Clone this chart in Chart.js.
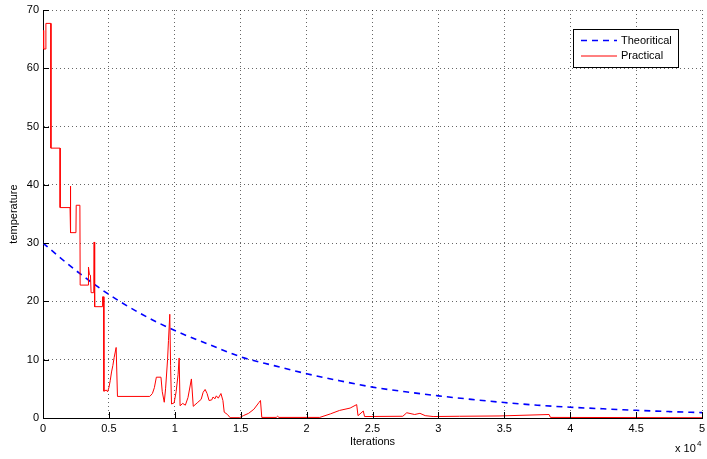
<!DOCTYPE html>
<html>
<head>
<meta charset="utf-8">
<script src="https://cdn.jsdelivr.net/npm/chart.js@4.4.1/dist/chart.umd.min.js"></script>
<style>
  body { margin: 0; background: #fff; }
  canvas { display: block; }
</style>
</head>
<body>
<canvas id="chart" width="707" height="459"></canvas>
<script>
// values (x in iterations)
const theoryX = [0, 2500, 5000, 7500, 10000, 12500, 15000, 17500, 20000, 22500, 25000,
                 27500, 30000, 32500, 35000, 37500, 40000, 42500, 45000, 47500, 50000];
const theoryY = [30, 25.3, 21.2, 17.8, 15.0, 12.7, 10.5, 9.0, 7.6, 6.4, 5.3,
                 4.5, 3.8, 3.2, 2.65, 2.2, 1.85, 1.58, 1.32, 1.1, 0.92];

const practicalX = [0, 50, 200, 220, 600, 600, 1300, 1300, 2050, 2080, 2100, 2500, 2520, 2800, 2820,
  3430, 3450, 3520, 3600, 3650, 3850, 3880, 3920, 4500, 4520, 4600, 4620, 4800, 4900, 5000,
  5100, 5200, 5300, 5400, 5550, 5650, 8100, 8300, 8450, 8600, 8950, 9050, 9200, 9300, 9450,
  9520, 9620, 9680, 9750, 9950, 10100, 10250, 10330, 10400, 10600, 10800, 11000, 11260, 11400,
  11700, 12000, 12150, 12300, 12450, 12600, 12800, 12900, 13050, 13150, 13300, 13500, 13650,
  13750, 14000, 14200, 14900, 15200, 15600, 16000, 16400, 16500, 16600, 17700, 17800, 17900,
  21000, 21800, 22500, 23300, 23800, 23900, 24300, 24400, 27300, 27600, 28200, 28600, 29000,
  29600, 31600, 34600, 38400, 38500, 50000];
const practicalY = [66.5, 63.3, 63.3, 67.7, 67.7, 46.3, 46.3, 36.1, 36.1, 39.8, 31.8, 31.8, 36.5, 36.5, 22.8,
  22.8, 25.9, 24.6, 24.5, 21.5, 21.5, 30.2, 19.1, 19.1, 20.8, 20.8, 4.6, 4.8, 4.5, 5.2,
  6.4, 7.9, 9.0, 10.4, 12.1, 3.7, 3.7, 4.2, 5.2, 7.0, 7.0, 4.5, 2.7, 5.0, 10.0,
  13.3, 17.8, 9.0, 2.4, 2.6, 4.5, 7.5, 10.3, 2.1, 2.5, 2.2, 3.5, 6.7, 2.0,
  2.6, 3.2, 4.4, 4.9, 4.2, 3.0, 3.1, 3.6, 3.3, 3.8, 3.4, 4.2, 3.0,
  1.0, 0.6, 0.05, 0.05, 0.4, 0.8, 1.5, 2.7, 3.0, 0.1, 0.1, 0.3, 0.1,
  0.1, 0.7, 1.3, 1.7, 2.3, 0.4, 1.2, 0.25, 0.3, 0.9, 0.6, 0.8, 0.4,
  0.25, 0.3, 0.35, 0.6, 0.1, 0.05];

const xTickLabels = ['0', '0.5', '1', '1.5', '2', '2.5', '3', '3.5', '4', '4.5', '5'];
const yTicks = [0, 10, 20, 30, 40, 50, 60, 70];

const FONT = "'Liberation Sans', Arial, sans-serif";

const matlabAxes = {
    id: 'matlabAxes',
    afterDatasetsDraw(chart) {
        const { ctx, chartArea, scales } = chart;
        ctx.save();
        ctx.strokeStyle = '#000';
        ctx.lineWidth = 1;
        ctx.beginPath();
        scales.x.ticks.forEach(t => {
            const px = Math.round(scales.x.getPixelForValue(t.value)) + 0.5;
            ctx.moveTo(px, chartArea.bottom);
            ctx.lineTo(px, chartArea.bottom - 6);
        });
        scales.y.ticks.forEach(t => {
            const py = Math.round(scales.y.getPixelForValue(t.value)) + 0.5;
            ctx.moveTo(chartArea.left, py);
            ctx.lineTo(chartArea.left + 6, py);
        });
        ctx.stroke();
        ctx.restore();
    },
    afterDraw(chart) {
        const { ctx } = chart;
        ctx.save();

        // legend box
        const lx = 573.5, ly = 29.5, lw = 105, lh = 38;
        ctx.fillStyle = '#fff';
        ctx.fillRect(lx, ly, lw, lh);
        ctx.strokeStyle = '#000';
        ctx.lineWidth = 1;
        ctx.strokeRect(lx, ly, lw, lh);

        chart.data.datasets.forEach((ds, i) => {
            const y = 40.5 + i * 15.5;
            ctx.beginPath();
            ctx.strokeStyle = ds.borderColor;
            ctx.lineWidth = ds.borderWidth;
            ctx.setLineDash(ds.borderDash || []);
            ctx.moveTo(581, y);
            ctx.lineTo(617, y);
            ctx.stroke();
            ctx.setLineDash([]);
            ctx.fillStyle = '#000';
            ctx.font = '11px ' + FONT;
            ctx.textBaseline = 'middle';
            ctx.textAlign = 'left';
            ctx.fillText(ds.label, 621, y);
        });

        // exponent note under x axis
        ctx.fillStyle = '#000';
        ctx.textBaseline = 'alphabetic';
        ctx.textAlign = 'left';
        ctx.font = '11px ' + FONT;
        ctx.fillText('x 10', 675, 452);
        ctx.font = '8px ' + FONT;
        ctx.fillText('4', 697, 446);
        ctx.restore();
    }
};

new Chart(document.getElementById('chart'), {
    type: 'line',
    data: {
        datasets: [
            {
                label: 'Theoritical',
                data: theoryX.map((x, i) => ({ x, y: theoryY[i] })),
                borderColor: '#0000ff',
                borderWidth: 1.6,
                borderDash: [6, 5],
                pointRadius: 0,
                cubicInterpolationMode: 'monotone',
                fill: false,
                order: 1
            },
            {
                label: 'Practical',
                data: practicalX.map((x, i) => ({ x, y: practicalY[i] })),
                borderColor: '#ff0000',
                borderWidth: 1,
                pointRadius: 0,
                tension: 0,
                fill: false,
                order: 0
            }
        ]
    },
    options: {
        responsive: false,
        animation: false,
        devicePixelRatio: 1,
        layout: { padding: { top: 10, right: 5, left: 0, bottom: 0 } },
        plugins: {
            legend: { display: false },
            tooltip: { enabled: false }
        },
        scales: {
            x: {
                type: 'linear',
                min: 0,
                max: 50000,
                afterFit: s => { s.height = 41; s.paddingLeft = 0; s.paddingRight = 0; },
                afterBuildTicks: s => { s.ticks = xTickLabels.map((_, i) => ({ value: i * 5000 })); },
                ticks: {
                    padding: 4,
                    color: '#000',
                    font: { family: FONT, size: 11 },
                    maxRotation: 0,
                    autoSkip: false,
                    callback: (v) => xTickLabels[Math.round(v / 5000)]
                },
                grid: { color: 'rgba(0,0,0,0.6)', drawTicks: false },
                border: { display: true, color: '#000', width: 1, dash: [1, 3] },
                title: {
                    display: true,
                    text: 'Iterations',
                    color: '#000',
                    font: { family: FONT, size: 11 },
                    padding: { top: 0, bottom: 10 }
                }
            },
            y: {
                type: 'linear',
                min: 0,
                max: 70,
                afterFit: s => { s.width = 43; s.paddingTop = 0; s.paddingBottom = 0; },
                afterBuildTicks: s => { s.ticks = yTicks.map(v => ({ value: v })); },
                ticks: {
                    padding: 4,
                    color: '#000',
                    font: { family: FONT, size: 11 },
                    autoSkip: false
                },
                grid: { color: 'rgba(0,0,0,0.6)', drawTicks: false },
                border: { display: true, color: '#000', width: 1, dash: [1, 3] },
                title: {
                    display: true,
                    text: 'temperature',
                    color: '#000',
                    font: { family: FONT, size: 11 },
                    padding: { top: 7, bottom: 0 }
                }
            }
        }
    },
    plugins: [matlabAxes]
});
</script>
</body>
</html>
